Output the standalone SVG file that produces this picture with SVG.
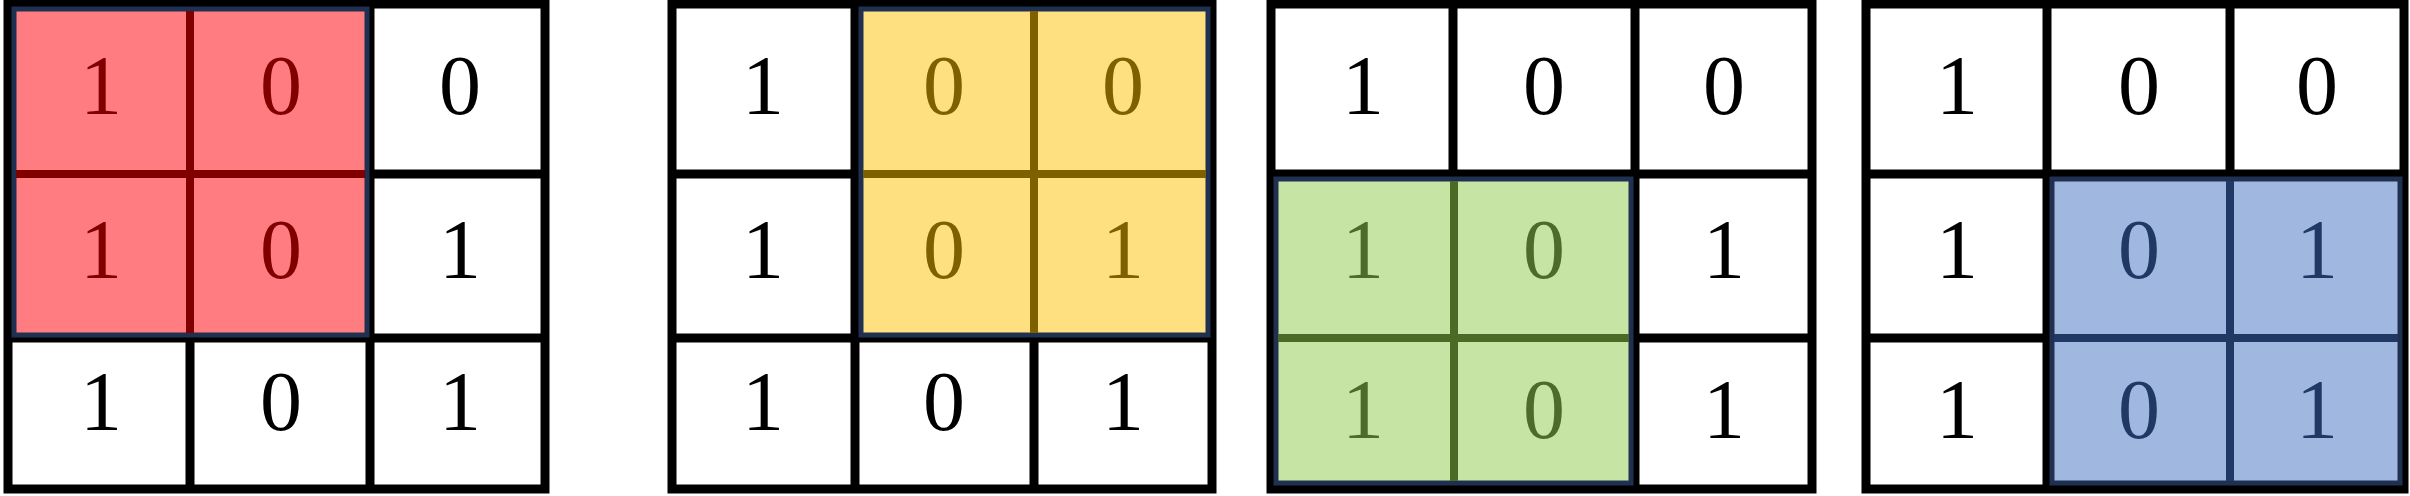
<svg xmlns="http://www.w3.org/2000/svg" width="2410" height="496" viewBox="0 0 2410 496">
<style>
.g{fill:#fff;stroke:#000;stroke-width:9}
.l{stroke:#000;stroke-width:9}
.t{font-family:"Liberation Serif",serif;font-size:84px;text-anchor:middle}
.hb{stroke:#1F3050;stroke-width:5}
</style>
<rect width="2410" height="496" fill="#fff"/>
<g id="grid1">
<rect class="g" x="8" y="4" width="537" height="485"/>
<line class="l" x1="190" y1="4" x2="190" y2="489"/><line class="l" x1="370" y1="4" x2="370" y2="489"/>
<line class="l" x1="8" y1="174" x2="545" y2="174"/><line class="l" x1="8" y1="338" x2="545" y2="338"/>
<rect class="hb" x="14" y="9" width="353" height="326" fill="#FF7C80"/>
<line x1="190" y1="11" x2="190" y2="333" stroke="#800000" stroke-width="8"/>
<line x1="16" y1="174" x2="365" y2="174" stroke="#800000" stroke-width="8"/>
<g class="t" fill="#800000"><text x="101" y="114">1</text><text x="281" y="114">0</text><text x="101" y="278">1</text><text x="281" y="278">0</text></g>
<g class="t"><text x="460" y="114">0</text><text x="460" y="278">1</text><text x="101" y="430">1</text><text x="281" y="430">0</text><text x="460" y="430">1</text></g>
</g>
<g id="grid2">
<rect class="g" x="672" y="4" width="540" height="485"/>
<line class="l" x1="855" y1="4" x2="855" y2="489"/><line class="l" x1="1034" y1="4" x2="1034" y2="489"/>
<line class="l" x1="672" y1="174" x2="1212" y2="174"/><line class="l" x1="672" y1="338" x2="1212" y2="338"/>
<rect class="hb" x="861" y="9" width="347" height="326" fill="#FFE080"/>
<line x1="1034" y1="11" x2="1034" y2="333" stroke="#7F6000" stroke-width="8"/>
<line x1="863" y1="174" x2="1206" y2="174" stroke="#7F6000" stroke-width="8"/>
<g class="t" fill="#7F6000"><text x="944" y="114">0</text><text x="1123" y="114">0</text><text x="944" y="278">0</text><text x="1123" y="278">1</text></g>
<g class="t"><text x="763" y="114">1</text><text x="763" y="278">1</text><text x="763" y="430">1</text><text x="944" y="430">0</text><text x="1123" y="430">1</text></g>
</g>
<g id="grid3">
<rect class="g" x="1271" y="4" width="541" height="485"/>
<line class="l" x1="1453" y1="4" x2="1453" y2="489"/><line class="l" x1="1635" y1="4" x2="1635" y2="489"/>
<line class="l" x1="1271" y1="174" x2="1812" y2="174"/><line class="l" x1="1271" y1="338" x2="1812" y2="338"/>
<rect class="hb" x="1276" y="179" width="355" height="304" fill="#C6E5A5"/>
<line x1="1454" y1="181" x2="1454" y2="481" stroke="#4A6B25" stroke-width="8"/>
<line x1="1278" y1="338" x2="1629" y2="338" stroke="#4A6B25" stroke-width="8"/>
<g class="t" fill="#4D6B2B"><text x="1363" y="278">1</text><text x="1544" y="278">0</text><text x="1363" y="438">1</text><text x="1544" y="438">0</text></g>
<g class="t"><text x="1363" y="114">1</text><text x="1544" y="114">0</text><text x="1724" y="114">0</text><text x="1724" y="278">1</text><text x="1724" y="438">1</text></g>
</g>
<g id="grid4">
<rect class="g" x="1866" y="4" width="538" height="485"/>
<line class="l" x1="2047" y1="4" x2="2047" y2="489"/><line class="l" x1="2230" y1="4" x2="2230" y2="489"/>
<line class="l" x1="1866" y1="174" x2="2404" y2="174"/><line class="l" x1="1866" y1="338" x2="2404" y2="338"/>
<rect class="hb" x="2052" y="179" width="348" height="304" fill="#A0B8E0"/>
<line x1="2230" y1="181" x2="2230" y2="481" stroke="#1F3864" stroke-width="8"/>
<line x1="2054" y1="338" x2="2398" y2="338" stroke="#1F3864" stroke-width="8"/>
<g class="t" fill="#1F3864"><text x="2139" y="278">0</text><text x="2317" y="278">1</text><text x="2139" y="438">0</text><text x="2317" y="438">1</text></g>
<g class="t"><text x="1957" y="114">1</text><text x="2139" y="114">0</text><text x="2317" y="114">0</text><text x="1957" y="278">1</text><text x="1957" y="438">1</text></g>
</g>
</svg>
